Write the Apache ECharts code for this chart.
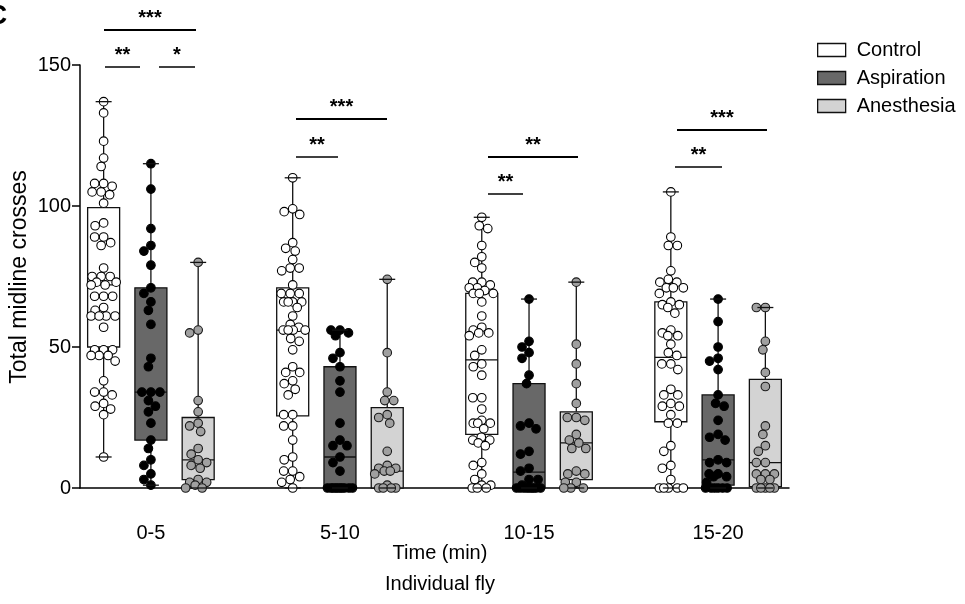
<!DOCTYPE html>
<html>
<head>
<meta charset="utf-8">
<script src="https://cdn.jsdelivr.net/npm/echarts/dist/echarts.min.js"></script>
<style>
html,body{margin:0;padding:0;background:#fff;}
#chart{width:965px;height:604px;}
</style>
</head>
<body>
<div id="chart"></div>
<script>
// ---------- categories ----------
const timeLabels = ['0-5', '5-10', '10-15', '15-20'];
const groupNames = ['Control', 'Aspiration', 'Anesthesia'];

// ---------- individual fly values (total midline crosses) ----------
const control_0_5 = [137,133,123,117,114,108,108,107,105,105,104,101,94,93,89,89,87,86,78,75,75,75,73,73,72,72,68,68,68,64,63,61,61,61,61,57,49,49,49,47,47,47,45,38,34,34,33,30,29,28,26,11];
const aspiration_0_5 = [115,106,92,86,84,79,71,69,66,63,58,46,43,34,34,34,31,29,27,23,17,14,10,8,5,3,1];
const anesthesia_0_5 = [80,56,55,31,27,23,22,20,14,12,10,9,8,7,3,2,2,1,0,0];

const control_5_10 = [110,99,98,97,87,85,84,81,78,78,77,72,69,69,69,66,66,66,66,64,61,58,57,56,56,56,56,53,52,49,43,41,41,38,37,35,33,26,26,22,22,17,11,10,6,6,4,3,2,0];
const aspiration_5_10 = [56,56,55,54,48,46,43,38,34,23,17,15,15,11,9,6,0,0,0,0,0,0,0,0,0,0];
const anesthesia_5_10 = [74,48,34,31,31,26,25,23,13,8,7,7,6,6,5,1,0,0,0,0];

const control_10_15 = [96,93,92,86,82,80,78,73,73,72,71,71,70,69,69,69,66,61,57,56,55,55,54,49,47,44,43,40,32,32,28,24,23,23,23,21,18,17,17,16,15,9,8,5,3,1,1,0,0,0];
const aspiration_10_15 = [67,52,50,48,46,40,37,23,22,21,13,12,7,6,3,3,1,0,0,0,0,0,0,0,0,0];
const anesthesia_10_15 = [73,51,44,37,30,25,25,24,19,17,16,14,14,6,5,5,2,2,0,0,0];

const control_15_20 = [105,89,86,86,77,74,73,73,71,71,71,69,66,65,65,64,62,56,55,54,54,51,48,47,44,44,42,35,33,33,30,29,29,26,23,23,15,13,8,7,3,0,0,0,0,0];
const aspiration_15_20 = [67,59,50,46,45,42,33,30,29,24,19,18,17,10,9,9,5,5,4,4,2,0,0,0,0,0,0];
const anesthesia_15_20 = [64,64,52,49,41,36,22,19,15,13,9,9,5,5,5,3,3,0,0,0,0,0];

// ---------- box statistics [min, Q1, median, Q3, max] per time window ----------
const controlBox    = [[11,50,72,99.4,137],[0,25.6,56,71,110],[0,19,45.4,69,96],[0,23.5,46.3,66,105]];
const aspirationBox = [[1,17,34,71,115],[0,0,11,43,56],[0,0,5.6,37,67],[0,1,10,33,67]];
const anesthesiaBox = [[0,3,10,25,80],[0,0,6,28.5,74],[0,3,16,27,73],[0,0.5,9,38.5,64]];

// ---------- y axis ticks ----------
const yTicks = [0, 50, 100, 150];

// ---------- texts ----------
const sigLabels = ['***','**','*','***','**','**','**','***','**'];
const xAxisTitle = 'Time (min)';
const subTitle = 'Individual fly';
const yAxisTitle = 'Total midline crosses';

// ================= build =================
const valuesByGroup = [
  [control_0_5, control_5_10, control_10_15, control_15_20],
  [aspiration_0_5, aspiration_5_10, aspiration_10_15, aspiration_15_20],
  [anesthesia_0_5, anesthesia_5_10, anesthesia_10_15, anesthesia_15_20]
];
const boxByGroup = [controlBox, aspirationBox, anesthesiaBox];

// slot layout: 3 groups + 1 spacer per time window
const slots = [];
timeLabels.forEach((t, ti) => {
  groupNames.forEach(g => slots.push(t + ' ' + g));
  if (ti < timeLabels.length - 1) slots.push('gap' + ti);
});
const slotOf = (ti, gi) => ti * 4 + gi;

const styles = {
  boxFill: ['#ffffff', '#686868', '#d3d3d3'],
  ptFill: ['#ffffff', '#000000', '#a0a0a0'],
  ptStroke: ['#000000', '#000000', '#1a1a1a'],
  stroke: '#111111'
};

const pointData = groupNames.map((g, gi) => {
  const arr = [];
  valuesByGroup[gi].forEach((vals, ti) => vals.forEach(v => arr.push([slotOf(ti, gi), v])));
  return arr;
});
const boxData = groupNames.map((g, gi) =>
  boxByGroup[gi].map((b, ti) => [slotOf(ti, gi)].concat(b)));
const capData = groupNames.map((g, gi) =>
  boxByGroup[gi].map((b, ti) => [slotOf(ti, gi), b[0], b[4]]));

// beeswarm layout (pixel offsets), computed through the axis scale
const swarmCache = {};
function layoutSwarm(data, api) {
  const bySlot = {};
  data.forEach((d, i) => { (bySlot[d[0]] = bySlot[d[0]] || []).push(i); });
  const offs = new Array(data.length).fill(0);
  const D = 8.8, H = 12.5;
  Object.keys(bySlot).forEach(s => {
    const placed = [];
    bySlot[s].forEach(i => {
      const py = api.coord([data[i][0], data[i][1]])[1];
      let best = 0, bestScore = -Infinity, bestAbs = Infinity, found = false;
      for (let x = -H; x <= H + 1e-6; x += 0.5) {
        let md = Infinity;
        for (const p of placed) {
          const dd = Math.hypot(p[0] - x, p[1] - py);
          if (dd < md) md = dd;
        }
        if (md >= D) {
          if (!found || Math.abs(x) < bestAbs - 1e-9) { found = true; best = x; bestAbs = Math.abs(x); }
        } else if (!found && md > bestScore) { bestScore = md; best = x; }
      }
      offs[i] = best;
      placed.push([best, py]);
    });
  });
  return offs;
}

const series = [];
groupNames.forEach((g, gi) => {
  series.push({
    name: g, type: 'custom', z: 2, silent: true,
    data: boxData[gi],
    encode: { x: 0, y: [1, 2, 3, 4, 5] },
    renderItem: (params, api) => {
      const s = api.value(0);
      const x = api.coord([s, api.value(1)])[0];
      const yMin = api.coord([s, api.value(1)])[1];
      const yQ1 = api.coord([s, api.value(2)])[1];
      const yMed = api.coord([s, api.value(3)])[1];
      const yQ3 = api.coord([s, api.value(4)])[1];
      const yMax = api.coord([s, api.value(5)])[1];
      const hw = 16;
      const ls = { stroke: styles.stroke, lineWidth: 1.3 };
      return { type: 'group', children: [
        { type: 'line', shape: { x1: x, y1: yMax, x2: x, y2: yQ3 }, style: ls },
        { type: 'line', shape: { x1: x, y1: yQ1, x2: x, y2: yMin }, style: ls },
        { type: 'rect', shape: { x: x - hw, y: yQ3, width: 2 * hw, height: yQ1 - yQ3 },
          style: { fill: styles.boxFill[gi], stroke: styles.stroke, lineWidth: 1.3 } },
        { type: 'line', shape: { x1: x - hw, y1: yMed, x2: x + hw, y2: yMed }, style: ls }
      ]};
    }
  });
});
groupNames.forEach((g, gi) => {
  series.push({
    name: g, type: 'custom', z: 3, silent: true,
    data: pointData[gi],
    encode: { x: 0, y: 1 },
    renderItem: (params, api) => {
      if (params.dataIndex === 0 || !swarmCache[gi]) swarmCache[gi] = layoutSwarm(pointData[gi], api);
      const p = api.coord([api.value(0), api.value(1)]);
      return { type: 'circle', shape: { cx: p[0] + swarmCache[gi][params.dataIndex], cy: p[1], r: 4.3 },
        style: { fill: styles.ptFill[gi], stroke: styles.ptStroke[gi], lineWidth: 1.1 } };
    }
  });
});
groupNames.forEach((g, gi) => {
  series.push({
    name: g, type: 'custom', z: 4, silent: true,
    data: capData[gi],
    encode: { x: 0, y: [1, 2] },
    renderItem: (params, api) => {
      const s = api.value(0);
      const a = api.coord([s, api.value(1)]);
      const b = api.coord([s, api.value(2)]);
      const ls = { stroke: styles.stroke, lineWidth: 1.3 };
      return { type: 'group', children: [
        { type: 'line', shape: { x1: a[0] - 8, y1: a[1], x2: a[0] + 8, y2: a[1] }, style: ls },
        { type: 'line', shape: { x1: b[0] - 8, y1: b[1], x2: b[0] + 8, y2: b[1] }, style: ls }
      ]};
    }
  });
});

// significance bar layout (pixels): [x1, x2, y, lineWidth]
const sigLayout = [
  [104, 196, 30, 2.2], [105, 140, 67, 1.5], [159, 195, 67, 1.5],
  [296, 387, 119, 2.2], [296, 338, 157, 1.5],
  [488, 578, 157, 2.2], [488, 523, 194, 1.5],
  [677, 767, 130, 2.2], [675, 722, 167, 1.5]
];
const FONT = '"Liberation Sans", Arial, sans-serif';
const graphics = [];
sigLayout.forEach((l, i) => {
  graphics.push({ type: 'line', silent: true, shape: { x1: l[0], y1: l[2], x2: l[1], y2: l[2] },
    style: { stroke: '#000', lineWidth: l[3] } });
  graphics.push({ type: 'text', silent: true, x: (l[0] + l[1]) / 2, y: l[2] - 1.5,
    style: { text: sigLabels[i], fill: '#000', font: 'bold 20px ' + FONT,
      textAlign: 'center', textVerticalAlign: 'bottom' } });
});
graphics.push({ type: 'text', silent: true, x: 440, y: 553,
  style: { text: xAxisTitle, fill: '#000', font: '20px ' + FONT, textAlign: 'center', textVerticalAlign: 'middle' } });
graphics.push({ type: 'text', silent: true, x: 440, y: 584,
  style: { text: subTitle, fill: '#000', font: '20px ' + FONT, textAlign: 'center', textVerticalAlign: 'middle' } });
graphics.push({ type: 'text', silent: true, x: 20, y: 277, rotation: Math.PI / 2,
  style: { text: yAxisTitle, fill: '#000', font: '23px ' + FONT, textAlign: 'center', textVerticalAlign: 'middle' } });
graphics.push({ type: 'text', silent: true, x: -13, y: 16,
  style: { text: 'C', fill: '#000', font: 'bold 28px ' + FONT, textAlign: 'left', textVerticalAlign: 'middle' } });

const chart = echarts.init(document.getElementById('chart'));
chart.setOption({
  animation: false,
  backgroundColor: '#fff',
  textStyle: { fontFamily: FONT, color: '#000' },
  grid: { left: 80, right: 176, top: 65, bottom: 116, containLabel: false, outerBoundsMode: 'none' },
  legend: {
    orient: 'vertical', left: 817, top: 40, itemWidth: 28, itemHeight: 13, itemGap: 8,
    selectedMode: false, padding: 0,
    textStyle: { fontSize: 20, color: '#000', padding: [0, 0, 0, 6] },
    data: groupNames.map((g, gi) => ({ name: g, icon: 'rect',
      itemStyle: { color: styles.boxFill[gi], borderColor: '#111', borderWidth: 1.3 } }))
  },
  xAxis: {
    type: 'category', data: slots, boundaryGap: true,
    axisLine: { lineStyle: { color: '#000', width: 1.5 } },
    axisTick: { alignWithLabel: true, interval: 0, length: 7, lineStyle: { color: '#000', width: 1.5 } },
    axisLabel: { interval: 0, margin: 35, fontSize: 20, color: '#000',
      formatter: (v, idx) => (idx % 4 === 1 ? timeLabels[(idx - 1) / 4] : '') },
    splitLine: { show: false }
  },
  yAxis: {
    type: 'value', min: yTicks[0], max: yTicks[yTicks.length - 1], interval: yTicks[1] - yTicks[0],
    axisLine: { show: true, lineStyle: { color: '#000', width: 1.5 } },
    axisTick: { show: true, length: 8, lineStyle: { color: '#000', width: 1.5 } },
    axisLabel: { margin: 9, fontSize: 20, color: '#000' },
    splitLine: { show: false }
  },
  series: series,
  graphic: graphics
});
</script>
</body>
</html>
